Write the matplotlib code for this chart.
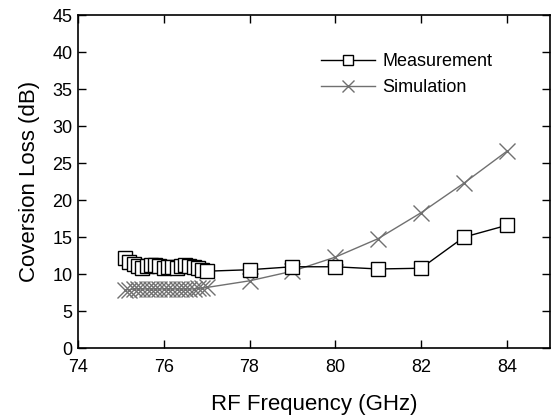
import matplotlib
matplotlib.use("Agg")
import matplotlib.pyplot as plt

plt.rcParams['font.family'] = ['Liberation Sans', 'DejaVu Sans']

meas_freq = [75.1, 75.2, 75.3, 75.4, 75.5, 75.6, 75.7, 75.8, 75.9, 76.0,
             76.1, 76.2, 76.3, 76.4, 76.5, 76.6, 76.7, 76.8, 76.9, 77.0,
             78, 79, 80, 81, 82, 83, 84]
meas_loss = [12.2, 11.7, 11.4, 11.1, 10.9, 11.1, 11.3, 11.3, 11.1, 10.9,
             11.0, 11.0, 10.9, 11.1, 11.2, 11.1, 11.0, 10.8, 10.6, 10.4,
             10.6, 11.0, 11.0, 10.7, 10.8, 15.0, 16.6]

sim_freq = [75.1, 75.2, 75.3, 75.4, 75.5, 75.6, 75.7, 75.8, 75.9, 76.0,
            76.1, 76.2, 76.3, 76.4, 76.5, 76.6, 76.7, 76.8, 76.9, 77.0,
            78, 79, 80, 81, 82, 83, 84]
sim_loss = [7.9, 7.9, 8.0, 8.0, 8.0, 8.0, 8.0, 8.0, 8.0, 8.0,
            8.0, 8.0, 8.0, 8.0, 8.0, 8.0, 8.0, 8.1, 8.1, 8.2,
            9.1, 10.4, 12.3, 14.8, 18.3, 22.3, 26.6]

x_ticks = [74, 76, 78, 80, 82, 84]
y_ticks = [0, 5, 10, 15, 20, 25, 30, 35, 40, 45]

fig = plt.figure(figsize=(5.53, 4.2), dpi=100)
ax = fig.add_axes([0.141, 0.171, 0.853, 0.793])

ax.plot(meas_freq, meas_loss, color='black', lw=1.0, marker='s', ms=9.5,
        mfc='white', mec='black', mew=1.0, label='Measurement', zorder=3)
ax.plot(sim_freq, sim_loss, color='#707070', lw=1.0, marker='x', ms=11,
        mec='#707070', mew=1.0, label='Simulation', zorder=2)

ax.set_xlim(74, 85)
ax.set_ylim(0, 45)
ax.set_xticks(x_ticks)
ax.set_yticks(y_ticks)
ax.tick_params(direction='in', top=True, right=True, labelsize=13, length=6, width=1)
ax.tick_params(axis='x', pad=8)
ax.tick_params(axis='y', pad=4)
for s in ax.spines.values():
    s.set_linewidth(1.2)

ax.set_xlabel('RF Frequency (GHz)', fontsize=16, labelpad=13)
ax.set_ylabel('Coversion Loss (dB)', fontsize=16, labelpad=9)

leg = ax.legend(loc='upper left', bbox_to_anchor=(0.48, 0.935), frameon=False,
                fontsize=13, handlelength=3.0, labelspacing=0.5, handletextpad=0.4,
                markerscale=0.75)

fig.savefig('out.png', dpi=100)
